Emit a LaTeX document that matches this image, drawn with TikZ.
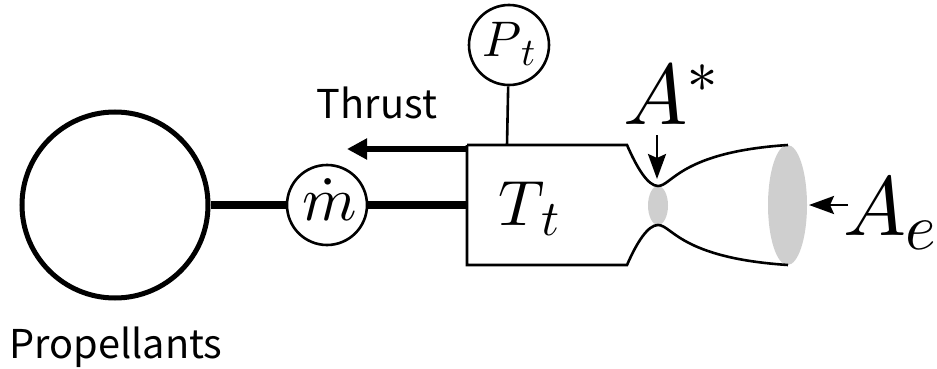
\documentclass[tikz,border=0pt]{standalone}
\usepackage{fontspec}
\setmainfont{Noto Sans CJK SC}
\usepackage{unicode-math}
\setmathfont{Latin Modern Math}
\usetikzlibrary{arrows.meta}
\newcommand{\lowsub}[3]{$#1\kern#3\raisebox{-0.17em}{\scalebox{0.78}{$#2$}}$}
\begin{document}
\begin{tikzpicture}[x=1pt,y=-1pt,
 circ/.style={draw,circle,line width=2.6pt,inner sep=0pt,minimum size=#1},
 lab/.style={inner sep=0pt,anchor=base},
 word/.style={inner sep=0pt,anchor=base,font=\fontsize{39.7}{39.7}\selectfont},
 smallarr/.style={-{Stealth[length=25pt,width=18pt,inset=4pt]},line width=2.6pt}]
\useasboundingbox (0,0) rectangle (937,369);
\node[circ=186pt,line width=5pt] (prop) at (115,205) {};
\node[circ=80pt] (mdot) at (327,205) {};
\node[circ=80pt] (pt) at (509,45) {};
\coordinate (body) at (467,205);
\coordinate (bt) at (507,145);
\fill[black!19] (658,205.5) ellipse (10pt and 19.5pt);
\fill[black!19] (787.5,205) ellipse (19.5pt and 60pt);
\draw[line width=2.6pt] (467,145) -- (627,145) .. controls (637,168) and (648,186) .. (658,186)
 .. controls (672,186) and (680,152) .. (788,145);
\draw[line width=2.6pt] (467,145) -- (467,265) -- (627,265) .. controls (637,242) and (648,225) .. (658,225)
 .. controls (672,225) and (680,258) .. (788,265);
\draw[line width=8pt] (prop) -- (mdot);
\draw[line width=8pt] (mdot) -- (body);
\draw[line width=2.6pt] (pt) -- (bt);
\coordinate (thr) at (347,149);
\coordinate (ths) at (467,149);
\draw[-{Stealth[length=20pt,width=20pt,inset=0pt]},line width=5.5pt] (ths) -- (thr);
\coordinate (as) at (657,135); \coordinate (ae) at (657,179);
\draw[smallarr] (as) -- (ae);
\coordinate (bs) at (848,205); \coordinate (be) at (809,205);
\draw[smallarr] (bs) -- (be);
\node[lab,font=\fontsize{62}{62}\selectfont] (m) at (330,220) {$\dot m$};
\node[lab,font=\fontsize{50}{50}\selectfont] (pl) at (509,57) {\lowsub{P}{t}{0pt}};
\node[lab,font=\fontsize{64}{64}\selectfont] (tt) at (529,225) {\lowsub{T}{t}{-3pt}};
\node[lab,font=\fontsize{86}{86}\selectfont] (ast) at (671,124) {$A^*$};
\node[lab,font=\fontsize{84}{84}\selectfont] (ae2) at (890,235) {\lowsub{A}{e}{-1pt}};
\node[word] (thrust) at (377,118) {Thrust};
\node[word] (props) at (116,358) {Propellants};
\end{tikzpicture}
\end{document}
